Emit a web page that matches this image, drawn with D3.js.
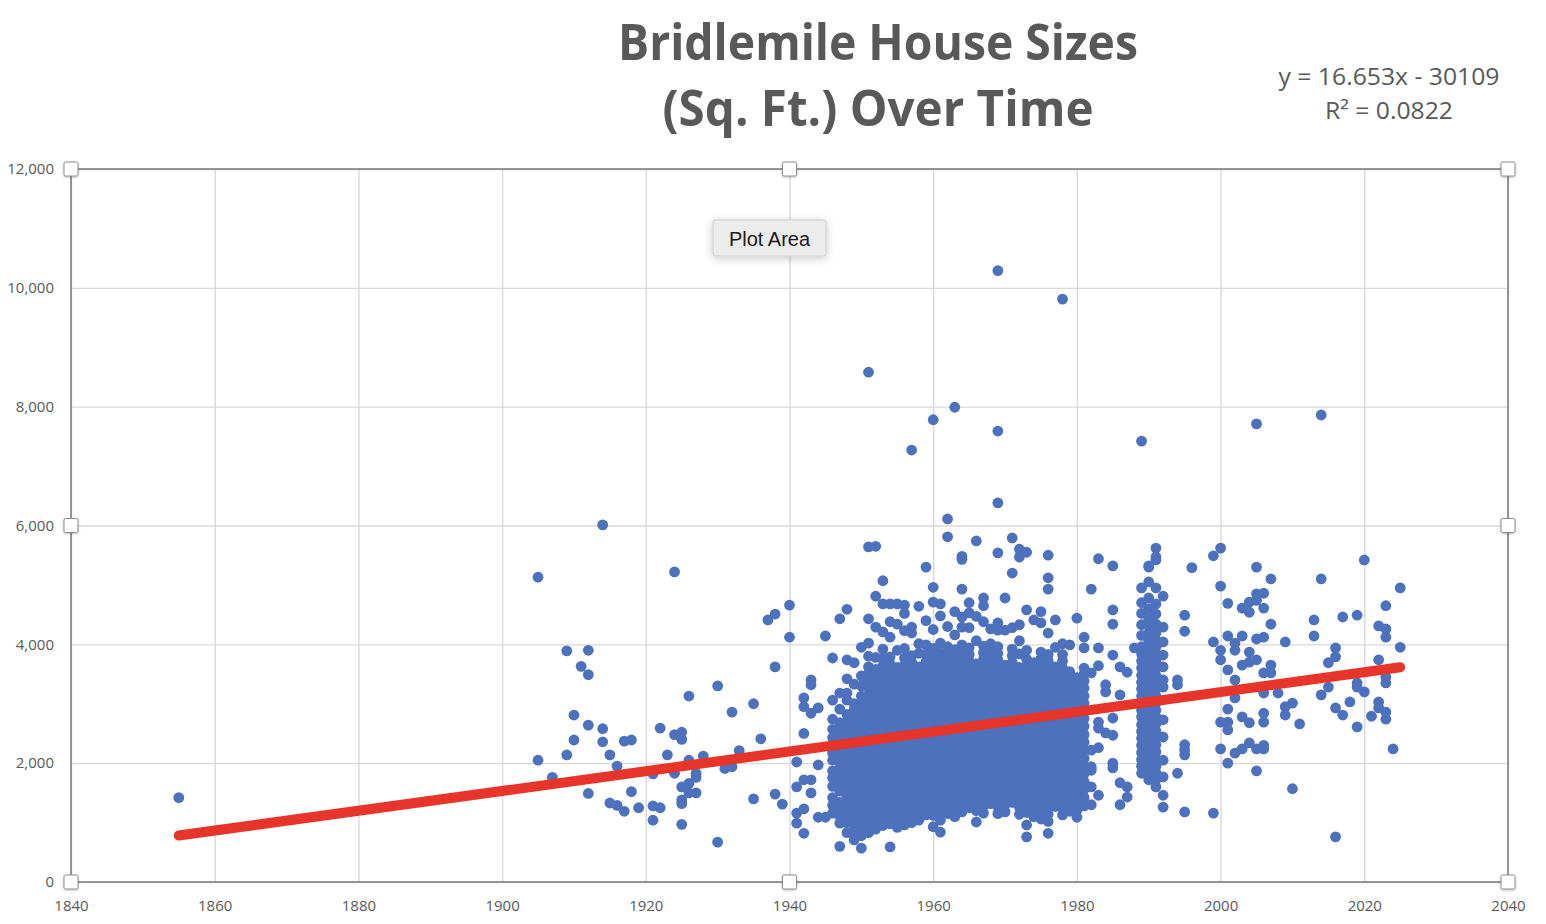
<!DOCTYPE html>
<html><head><meta charset="utf-8">
<script src="https://cdn.jsdelivr.net/npm/d3@7/dist/d3.min.js"></script>
<style>body{margin:0;background:#fff;overflow:hidden}</style>
</head><body><svg id="c" width="1546" height="924"></svg>
<script>
// ---------- data ----------
const xTicks = [1840,1860,1880,1900,1920,1940,1960,1980,2000,2020,2040];
const yTicks = [0,2000,4000,6000,8000,10000,12000];
const trendSlope = 16.653, trendIntercept = -30109;
const trendRange = [1855, 2025];
const titleLines = ["Bridlemile House Sizes", "(Sq. Ft.) Over Time"];
const equationLines = ["y = 16.653x - 30109", "R² = 0.0822"];

// individual homes built before 1946: [year, sq ft]
const prewarHomes = [[1855,1420],[1905,5130],[1905,2050],[1907,1760],[1909,3890],[1909,2140],[1910,2810],[1910,2390],
[1911,3630],[1912,3900],[1912,3490],[1912,2640],[1912,1490],[1914,6010],[1914,2580],[1914,2360],[1915,2140],[1915,1330],
[1916,1950],[1916,1290],[1917,1190],[1917,2370],[1918,2390],[1918,1520],[1919,1250],[1921,1820],[1921,1280],[1921,1040],
[1922,1250],[1922,2590],[1923,2140],[1924,5220],[1924,2480],[1924,1830],[1925,2520],[1925,2400],[1925,1600],[1925,1380],
[1925,1320],[1925,970],[1926,3130],[1926,1660],[1926,1500],[1926,2050],[1927,1830],[1927,1760],[1927,1500],[1928,2120],
[1930,3300],[1930,670],[1931,1910],[1932,2860],[1932,1940],[1933,2210],[1935,3000],[1935,1400],[1936,2410],[1937,4410],
[1938,4510],[1938,3620],[1938,1480],[1939,1310],[1940,4660],[1940,4120],[1941,2020],[1941,1600],[1941,1160],[1941,990],
[1942,2500],[1942,3100],[1942,2950],[1942,1720],[1942,1230],[1942,820],[1943,3400],[1943,3320],[1943,2840],[1943,1720],
[1943,1500],[1944,2930],[1944,1970],[1944,1090],[1945,1090],[1945,4140]];

// dense post-war build-out: [year, [sq ft of each home]]
const boomYears = [
[1946,[1160,1290,1420,1610,1750,1870,2050,2170,2290,2430,2570,2740,3060,3770]],
[1947,[600,990,1110,1240,1340,1530,1640,1760,1900,2010,2120,2260,2450,2570,2680,2910,3180,4430]],
[1948,[830,1000,1090,1200,1330,1440,1550,1670,1780,1890,2000,2120,2240,2350,2470,2580,2690,2820,3060,3180,3420,3740,4590]],
[1949,[710,870,990,1100,1220,1330,1450,1560,1690,1800,1920,2030,2150,2260,2400,2510,2630,2760,2900,3000,3330,3690]],
[1950,[570,780,900,1010,1120,1240,1350,1470,1580,1700,1810,1940,2050,2170,2290,2400,2530,2650,2760,2880,2990,3130,3300,3470,3950]],
[1951,[830,950,1060,1180,1290,1400,1520,1640,1750,1870,1990,2100,2220,2330,2450,2570,2680,2800,2920,3040,3150,3270,3390,3510,3620,3800,4020,4430,5640,8580]],
[1952,[890,1010,1120,1240,1360,1470,1590,1710,1820,1940,2060,2170,2290,2400,2520,2640,2760,2870,2990,3110,3220,3340,3460,3580,3780,4290,4810,5650]],
[1953,[950,1060,1180,1300,1410,1530,1650,1760,1880,2000,2110,2230,2350,2460,2580,2700,2820,2930,3050,3170,3280,3400,3520,3640,3760,3920,4210,4680,5070]],
[1954,[590,980,1100,1210,1330,1450,1560,1680,1800,1910,2030,2150,2260,2380,2500,2610,2730,2850,2970,3080,3200,3320,3440,3550,3670,3790,4120,4380,4680]],
[1955,[920,1040,1150,1270,1390,1500,1620,1740,1850,1970,2090,2200,2320,2440,2550,2670,2790,2910,3020,3140,3260,3380,3490,3610,3900,4340,4680]],
[1956,[960,1080,1190,1310,1430,1540,1660,1780,1890,2010,2130,2240,2360,2480,2600,2710,2830,2950,3060,3180,3300,3420,3530,3650,3770,3930,4230,4520,4660]],
[1957,[1000,1120,1230,1350,1470,1580,1700,1820,1940,2050,2170,2290,2400,2520,2640,2760,2870,2990,3110,3230,3340,3460,3580,3700,3810,4190,4290,7270]],
[1958,[1040,1160,1270,1390,1510,1630,1740,1860,1980,2090,2210,2330,2450,2560,2680,2800,2920,3030,3150,3270,3390,3500,3620,3850,4010,4640]],
[1959,[1130,1250,1360,1480,1600,1720,1830,1950,2070,2190,2300,2420,2540,2660,2770,2890,3010,3130,3240,3360,3480,3600,3710,3830,3990,4400,5300]],
[1960,[930,1120,1230,1350,1470,1590,1700,1820,1940,2060,2170,2290,2410,2530,2640,2760,2880,3000,3110,3230,3350,3470,3580,3700,3820,3930,4250,4710,4960,7780]],
[1961,[840,1040,1160,1280,1390,1510,1630,1750,1860,1980,2100,2220,2330,2450,2570,2690,2800,2920,3040,3160,3270,3390,3510,3630,3740,3850,4020,4480,4680]],
[1962,[1150,1260,1380,1500,1620,1730,1850,1970,2090,2200,2320,2440,2560,2670,2790,2910,3030,3140,3260,3380,3500,3610,3730,3850,3960,4300,5810,6110]],
[1963,[1100,1220,1340,1450,1570,1690,1810,1920,2040,2160,2280,2390,2510,2630,2750,2860,2980,3100,3220,3330,3450,3570,3690,3800,3910,4160,4550,7990]],
[1964,[1180,1290,1410,1530,1650,1760,1880,2000,2120,2230,2350,2470,2590,2700,2820,2940,3060,3170,3290,3410,3530,3640,3760,3880,3990,4290,4460,4930,5430,5480]],
[1965,[1250,1370,1480,1600,1720,1840,1950,2070,2190,2310,2420,2540,2660,2780,2890,3010,3130,3250,3360,3480,3600,3720,3830,3940,4280,4530,4700]],
[1966,[1010,1200,1320,1440,1550,1670,1790,1910,2020,2140,2260,2380,2490,2610,2730,2850,2960,3080,3200,3320,3430,3550,3670,4060,4470,5740]],
[1967,[1160,1280,1400,1510,1630,1750,1870,1980,2100,2220,2340,2450,2570,2690,2810,2920,3040,3160,3280,3390,3510,3630,3750,3860,3970,4380,4650,4780]],
[1968,[1320,1430,1550,1670,1790,1900,2020,2140,2260,2370,2490,2610,2730,2840,2960,3080,3200,3310,3430,3550,3670,3780,3900,4010,4260]],
[1969,[1150,1270,1390,1500,1620,1740,1860,1970,2090,2210,2330,2440,2560,2680,2800,2910,3030,3150,3270,3380,3500,3620,3740,3850,3960,4240,4360,5540,6380,7590,10290]],
[1970,[1180,1300,1420,1530,1650,1770,1890,2000,2120,2240,2360,2470,2590,2710,2830,2940,3060,3180,3300,3410,3530,3650,4240,4780]],
[1971,[1340,1460,1580,1700,1810,1930,2050,2170,2280,2400,2520,2640,2750,2870,2990,3110,3220,3340,3460,3580,3690,3810,3920,4280,5200,5790]],
[1972,[1140,1260,1370,1490,1610,1730,1840,1960,2080,2200,2310,2430,2550,2670,2780,2900,3020,3140,3250,3370,3490,3610,3840,4060,4330,5470,5600]],
[1973,[760,960,1170,1290,1400,1520,1640,1760,1870,1990,2110,2230,2340,2460,2580,2700,2810,2930,3050,3170,3280,3400,3520,3640,3750,3900,4580,5550]],
[1974,[1100,1220,1340,1450,1570,1690,1810,1920,2040,2160,2280,2390,2510,2630,2750,2860,2980,3100,3220,3330,3450,3570,3690,4410]],
[1975,[1060,1180,1300,1410,1530,1650,1770,1880,2000,2120,2240,2350,2470,2590,2710,2820,2940,3060,3180,3290,3410,3530,3650,3760,3870,4360,4550]],
[1976,[820,1020,1140,1260,1370,1490,1610,1730,1840,1960,2080,2200,2310,2430,2550,2670,2780,2900,3020,3140,3250,3370,3490,3610,3720,3830,4190,4930,5120,5500]],
[1977,[1270,1390,1500,1620,1740,1860,1970,2090,2210,2330,2440,2560,2680,2800,2910,3030,3150,3270,3380,3500,3620,3950,4410]],
[1978,[1130,1250,1370,1480,1600,1720,1840,1950,2070,2190,2310,2420,2540,2660,2780,2890,3010,3130,3250,3360,3480,3600,3720,3830,4010,9810]],
[1979,[1190,1310,1430,1540,1660,1780,1900,2010,2130,2250,2370,2480,2600,2720,2840,2950,3070,3190,3310,3420,3540,3990]],
[1980,[1090,1210,1330,1440,1560,1680,1800,1910,2030,2150,2270,2380,2500,2620,2740,2850,2970,3090,3210,3320,3440,4440]],
[1981,[1280,1420,1560,1690,1820,1950,2080,2220,2350,2480,2620,2750,2880,3010,3130,3260,3380,3500,3600,3940,4120]],
[1982,[1300,1600,1880,1940,2220,3520,4930]],
[1983,[1460,2260,2590,2690,3640,3940,5440]],
[1984,[2510,3200,3320]],
[1985,[1920,2000,2470,2760,3820,4340,4580,5320]],
[1986,[1300,1670,3150,3620]],
[1987,[1430,1600,3530]],
[1988,[3940]],
[1989,[1830,1950,2060,2180,2300,2420,2530,2650,2780,2890,3010,3130,3250,3360,3480,3600,3720,3840,3960,4150,4330,4520,4700,4950,7420]],
[1990,[1720,1840,1950,2070,2190,2310,2420,2540,2660,2780,2890,3010,3130,3250,3360,3480,3600,3720,3830,3950,4070,4190,4310,4430,4600,4780,5050,5300,5320]],
[1991,[1600,1720,1840,1950,2070,2190,2310,2420,2540,2660,2780,2890,3010,3130,3250,3360,3480,3600,3720,3830,3950,4070,4190,4340,4510,4680,4950,5420,5470,5620]],
[1992,[1260,1460,1770,2050,2440,2730,3280,3400,3620,3820,4040,4290,4810]]
];

// individual homes built from 1994 on: [year, sq ft]
const laterHomes = [[1994,1830],[1994,3320],[1994,3400],[1995,1180],[1995,2140],[1995,2220],[1995,2310],[1995,4220],[1995,4490],
[1996,5290],[1999,1160],[1999,4040],[1999,5490],[2000,5620],[2000,4980],[2000,3900],[2000,3740],[2000,2690],[2000,2240],
[2001,4690],[2001,4140],[2001,3570],[2001,2910],[2001,2690],[2001,2560],[2001,2000],[2002,4020],[2002,3900],[2002,3400],
[2002,3100],[2002,2170],[2003,4610],[2003,4140],[2003,3650],[2003,2780],[2003,2240],[2004,4710],[2004,4540],[2004,3870],
[2004,3700],[2004,2680],[2004,2340],[2005,7710],[2005,5300],[2005,4850],[2005,4740],[2005,4090],[2005,3740],[2005,2240],[2005,1870],
[2006,4860],[2006,4610],[2006,4120],[2006,3520],[2006,3180],[2006,2840],[2006,2690],[2006,2300],[2006,2240],[2007,5100],
[2007,4340],[2007,3650],[2007,3520],[2008,3180],[2009,4040],[2009,2950],[2009,2810],[2010,3010],[2010,1570],[2011,2660],
[2013,4410],[2013,4140],[2014,7860],[2014,5100],[2014,3150],[2015,3690],[2015,3280],[2016,3940],[2016,3790],[2016,2930],[2016,760],
[2017,4460],[2017,2810],[2018,3030],[2019,4490],[2019,3350],[2019,3280],[2019,2610],[2020,5420],[2020,3200],[2021,2790],
[2022,4310],[2022,3740],[2022,3030],[2022,2930],[2023,4650],[2023,4260],[2023,4120],[2023,3450],[2023,3350],[2023,2860],
[2023,2740],[2024,2240],[2025,4950],[2025,3950]];

// ---------- drawing ----------
const homes = prewarHomes
  .concat(boomYears.flatMap(([yr, sizes]) => sizes.map(s => [yr, s])))
  .concat(laterHomes);

const svg = d3.select("#c");
const L = 71, R = 1508, T = 169, B = 882;
const x = d3.scaleLinear().domain([1840, 2040]).range([L, R]);
const y = d3.scaleLinear().domain([0, 12000]).range([B, T]);
const txt = "#595959";

const defs = svg.append("defs");
const f = defs.append("filter").attr("id","sh").attr("x","-30%").attr("y","-30%").attr("width","160%").attr("height","170%");
f.append("feDropShadow").attr("dx",0).attr("dy",2).attr("stdDeviation",5).attr("flood-color","#000").attr("flood-opacity",0.22);
const f2 = defs.append("filter").attr("id","hs").attr("x","-50%").attr("y","-50%").attr("width","200%").attr("height","200%");
f2.append("feDropShadow").attr("dx",0).attr("dy",1).attr("stdDeviation",1.2).attr("flood-color","#000").attr("flood-opacity",0.25);

// grid
const gx = svg.append("g").attr("transform", `translate(0,${B})`)
  .call(d3.axisBottom(x).tickValues(xTicks).tickSize(-(B - T)).tickFormat(""));
const gy = svg.append("g").attr("transform", `translate(${L},0)`)
  .call(d3.axisLeft(y).tickValues(yTicks).tickSize(-(R - L)).tickFormat(""));
[gx, gy].forEach(g => { g.select(".domain").remove(); g.selectAll("line").attr("stroke", "#d9d9d9").attr("stroke-width", 1.4); });

// labels
const lx = svg.append("g").attr("transform", `translate(0,${B})`)
  .call(d3.axisBottom(x).tickValues(xTicks).tickSize(0).tickPadding(18).tickFormat(d3.format("d")));
const ly = svg.append("g").attr("transform", `translate(${L},0)`)
  .call(d3.axisLeft(y).tickValues(yTicks).tickSize(0).tickPadding(17).tickFormat(d3.format(",")));
[lx, ly].forEach(g => { g.select(".domain").remove(); g.selectAll("text").attr("fill", txt).style("font-family", "'Open Sans', sans-serif").style("font-size", "15px"); });

// border
svg.append("rect").attr("x", L).attr("y", T).attr("width", R - L).attr("height", B - T)
  .attr("fill", "none").attr("stroke", "#7f7f7f").attr("stroke-width", 1.6);

// points
svg.append("g").selectAll("circle").data(homes).join("circle")
  .attr("cx", d => x(d[0])).attr("cy", d => y(d[1])).attr("r", 5.4).attr("fill", "#4e71be");

// trendline
const line = d3.line().x(d => x(d)).y(d => y(trendSlope * d + trendIntercept));
svg.append("path").datum(trendRange).attr("d", line).attr("stroke", "#e8352b")
  .attr("stroke-width", 10).attr("stroke-linecap", "round").attr("fill", "none");

// title
const tw = [520, 431], tb = [60, 126];
titleLines.forEach((t, i) => {
  svg.append("text").attr("x", 878).attr("y", tb[i]).attr("text-anchor", "middle")
    .attr("textLength", tw[i]).attr("lengthAdjust", "spacingAndGlyphs")
    .style("font-family", "'Open Sans', sans-serif").style("font-weight", 700).style("font-size", "50px")
    .attr("fill", txt).text(t);
});
// equation
const ew = [221, 128], eb = [85, 119];
equationLines.forEach((t, i) => {
  svg.append("text").attr("x", 1389).attr("y", eb[i]).attr("text-anchor", "middle")
    .attr("textLength", ew[i]).attr("lengthAdjust", "spacingAndGlyphs")
    .style("font-family", "'Open Sans', sans-serif").style("font-size", "23px")
    .attr("fill", txt).text(t);
});

// selection handles
const mx = (L + R) / 2, my = (T + B) / 2;
[[L,T],[mx,T],[R,T],[L,my],[R,my],[L,B],[mx,B],[R,B]].forEach(([hx, hy]) => {
  svg.append("rect").attr("x", hx - 7).attr("y", hy - 7).attr("width", 14).attr("height", 14).attr("rx", 1.5)
    .attr("fill", "#fff").attr("stroke", "#8c8c8c").attr("stroke-width", 1).attr("filter", "url(#hs)");
});

// "Plot Area" tooltip
const tip = svg.append("g");
tip.append("rect").attr("x", 713).attr("y", 220).attr("width", 113).attr("height", 36).attr("rx", 2)
  .attr("fill", "#ececec").attr("stroke", "#cdcdcd").attr("filter", "url(#sh)");
tip.append("text").attr("x", 769.5).attr("y", 245.5).attr("text-anchor", "middle")
  .style("font-family", "'Liberation Sans', Arial, sans-serif").style("font-size", "20px")
  .attr("fill", "#1a1a1a").text("Plot Area");
</script></body></html>
